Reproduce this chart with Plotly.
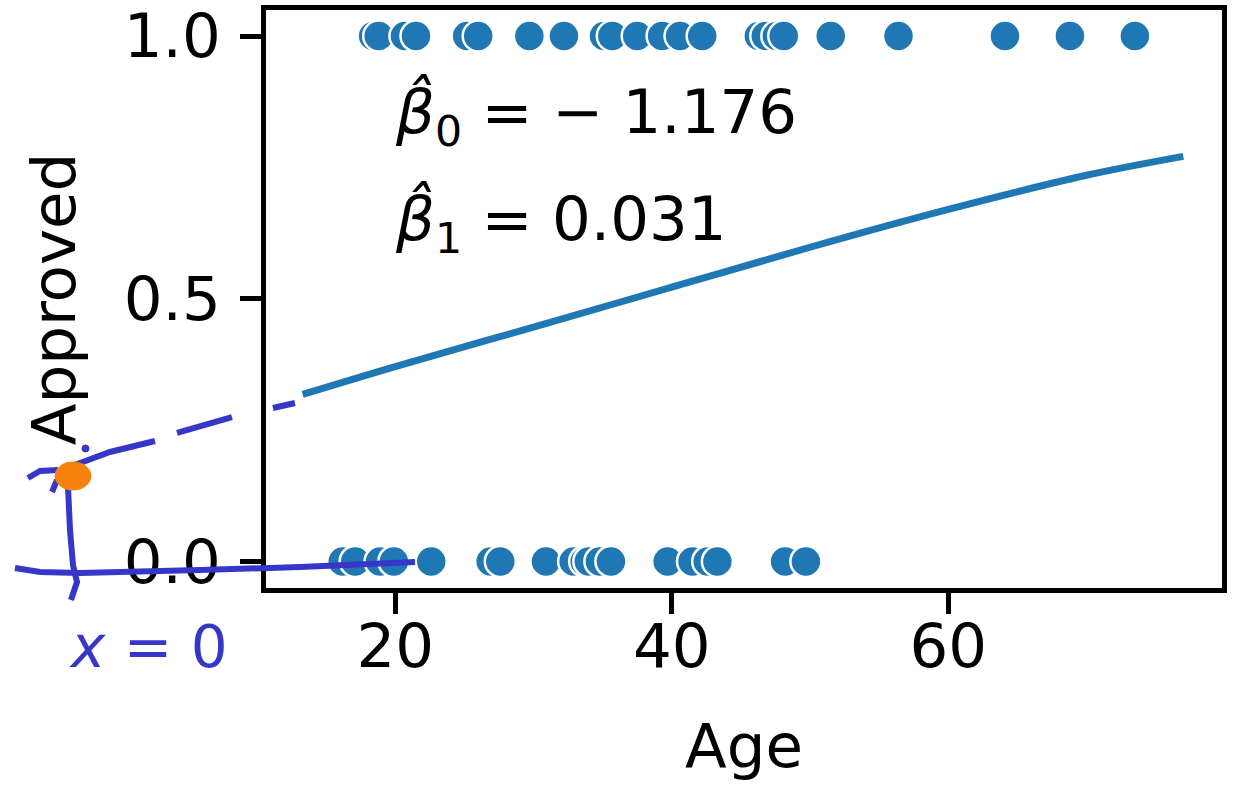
import plotly.graph_objects as go

# ---- data ----
age_approved = [18.4, 18.8, 20.7, 21.5, 25.2, 26.0, 29.7, 32.2, 35.1, 35.7, 37.5,
                39.3, 40.6, 42.2, 46.3, 46.8, 47.6, 48.1, 51.5, 56.4, 64.1, 68.8, 73.5]
age_denied = [16.2, 17.1, 18.9, 19.9, 22.6, 26.9, 27.6, 30.9, 32.9, 33.7, 34.0,
              34.8, 35.6, 39.7, 41.5, 42.6, 43.3, 48.2, 49.7]
fit_age = [13.3, 20, 30, 40, 50, 60, 70, 77.0]
fit_prob = [0.318, 0.371, 0.446, 0.522, 0.598, 0.670, 0.735, 0.771]
beta0 = -1.176
beta1 = 0.031
x_ticks = [20, 40, 60]
y_ticks = [0.0, 0.5, 1.0]
y_ticklabels = ["0.0", "0.5", "1.0"]

BLUE = "#1f77b4"
FONT = "DejaVu Sans"
FS = 61

fig = go.Figure()
fig.add_trace(go.Scatter(
    x=age_approved + age_denied,
    y=[1] * len(age_approved) + [0] * len(age_denied),
    mode="markers",
    marker=dict(size=31, color=BLUE, line=dict(color="white", width=2.5)),
    cliponaxis=False, showlegend=False))
fig.add_trace(go.Scatter(
    x=fit_age, y=fit_prob, mode="lines", line=dict(color=BLUE, width=7, shape="spline"),
    showlegend=False))

# ---- layout geometry ----
L, R, T, B = 266, 1222, 10, 588
W, H = 1234, 788
pw, ph = R - L, B - T

def px(x):
    return (x - L) / pw

def py(y):
    return (B - y) / ph

fig.update_layout(
    width=W, height=H,
    margin=dict(l=L, r=W - R, t=T, b=H - B, autoexpand=False),
    paper_bgcolor="white", plot_bgcolor="white",
    font=dict(family=FONT, size=FS, color="black"),
    xaxis=dict(range=[10.65, 79.8], tickvals=x_ticks, ticks="outside", ticklen=21,
               tickwidth=5, tickcolor="black", showgrid=False, zeroline=False,
               showline=True, linewidth=5, linecolor="black", mirror=True,
               tickfont=dict(size=FS), ticklabelstandoff=-20, automargin=False,
               title=dict(text="Age", font=dict(size=FS), standoff=46)),
    yaxis=dict(range=[-0.0505, 1.0495], tickvals=y_ticks, ticktext=y_ticklabels,
               ticks="outside", ticklen=21, tickwidth=5, tickcolor="black",
               showgrid=False, zeroline=False, showline=True, linewidth=5,
               linecolor="black", mirror=True, tickfont=dict(size=FS),
               ticklabelstandoff=7, automargin=False,
               title=dict(text="Approved", font=dict(size=FS), standoff=30)),
)

fig.add_annotation(x=px(393), y=py(115), xref="paper", yref="paper",
                   xanchor="left", yanchor="middle", showarrow=False,
                   text=f"<i>β̂</i><sub>0</sub> = − {abs(beta0):.3f}",
                   font=dict(size=FS, family=FONT))
fig.add_annotation(x=px(393), y=py(222), xref="paper", yref="paper",
                   xanchor="left", yanchor="middle", showarrow=False,
                   text=f"<i>β̂</i><sub>1</sub> = {beta1:.3f}",
                   font=dict(size=FS, family=FONT))

# ---- hand-drawn ink (pixel positions converted to paper fractions) ----
INK = "#3636c8"

def path(pts):
    return "M " + " L ".join(f"{px(a):.4f},{py(b):.4f}" for a, b in pts)

strokes = [
    [(15, 568), (40, 572), (80, 573), (200, 570), (300, 567), (415, 562)],
    [(68, 487), (70, 530), (73, 565), (77, 582), (71, 600)],
    [(28, 478), (40, 471), (58, 470)],
    [(52, 492), (57, 480)],
    [(72, 466), (110, 452), (155, 441)],
    [(177, 433), (232, 417)],
    [(273, 408), (295, 403)],
]
for s in strokes:
    fig.add_shape(type="path", path=path(s), xref="paper", yref="paper",
                  line=dict(color=INK, width=6), layer="above")
fig.add_shape(type="circle", xref="paper", yref="paper",
              x0=px(82), x1=px(89), y0=py(452), y1=py(445),
              fillcolor=INK, line=dict(color=INK, width=1))
fig.add_shape(type="circle", xref="paper", yref="paper",
              x0=px(55), x1=px(91), y0=py(490), y1=py(462),
              fillcolor="#f5820d", line=dict(color="#f5820d", width=1), layer="above")
fig.add_annotation(x=px(148), y=py(647), xref="paper", yref="paper",
                   xanchor="center", yanchor="middle", showarrow=False,
                   text="<i>x</i> = 0", font=dict(size=58, family=FONT, color=INK))

fig.write_html("out.html")
